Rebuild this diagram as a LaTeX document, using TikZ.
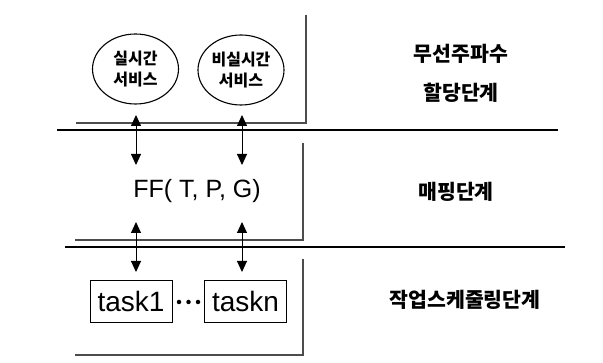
\documentclass[tikz,border=0pt]{standalone}
\usepackage{fontspec}
\setmainfont{Liberation Sans}
\newfontfamily\kr{Noto Sans CJK KR}
\usetikzlibrary{arrows.meta,shapes.geometric}
\begin{document}
\begin{tikzpicture}[x=1pt,y=-1pt,
  svc/.style={draw=black,line width=1.1pt,ellipse,minimum width=86pt,minimum height=70pt,inner sep=0pt,align=center,font=\kr\bfseries\fontsize{16}{21}\selectfont},
  lvl/.style={align=center,font=\kr\bfseries\fontsize{20.5}{39}\selectfont},
  taskbox/.style={draw=black,line width=0.9pt,minimum width=82pt,minimum height=42pt,inner sep=0pt,font=\fontsize{28}{28}\selectfont},
  sep/.style={line width=1.3pt,black},
  frame/.style={line width=1.8pt,black!70},
  dotmark/.style={circle,fill=black,inner sep=0pt,minimum size=4.5pt},
  link/.style={line width=1pt,{Triangle[length=11pt,width=10pt]}-{Triangle[length=11pt,width=10pt]}}
]
\useasboundingbox (0,0) rectangle (603,363);
% separators
\coordinate (s1a) at (57,130); \coordinate (s1b) at (558,130);
\coordinate (s2a) at (65,247); \coordinate (s2b) at (565,247);
\draw[sep] (s1a) -- (s1b);
\draw[sep] (s2a) -- (s2b);
% L frames
\coordinate (f1t) at (306,15); \coordinate (f1c) at (306,123); \coordinate (f1l) at (76,123);
\coordinate (f2t) at (303,143); \coordinate (f2c) at (303,240); \coordinate (f2l) at (75,240);
\coordinate (f3t) at (303,259); \coordinate (f3c) at (303,355); \coordinate (f3l) at (75,355);
\draw[frame] (f1t) -- (f1c) -- (f1l);
\draw[frame] (f2t) -- (f2c) -- (f2l);
\draw[frame] (f3t) -- (f3c) -- (f3l);
% services
\node[svc] (rt) at (135.5,69) {실시간\\서비스};
\node[svc] (nrt) at (241,70) {비실시간\\서비스};
% mapping
\node[font=\fontsize{25}{25}\selectfont] (ff) at (197,191) {FF( T, P, G)};
% tasks
\node[taskbox] (t1) at (131,301) {task1};
\node[taskbox] (tn) at (245.5,301) {taskn};
\node[dotmark] (d1) at (179,302) {};
\node[dotmark] (d2) at (188.5,302) {};
\node[dotmark] (d3) at (198,302) {};
% arrows
\coordinate (a1t) at (136,115); \coordinate (a1b) at (136,165);
\coordinate (a2t) at (242,115); \coordinate (a2b) at (242,165);
\coordinate (a3t) at (136,222); \coordinate (a3b) at (136,272);
\coordinate (a4t) at (242,222); \coordinate (a4b) at (242,272);
\draw[link] (a1t) -- (a1b);
\draw[link] (a2t) -- (a2b);
\draw[link] (a3t) -- (a3b);
\draw[link] (a4t) -- (a4b);
% level labels
\node[lvl] (l1) at (461,73) {무선주파수\\할당단계};
\node[lvl] (l2) at (456,192) {매핑단계};
\node[lvl] (l3) at (465,300) {작업스케줄링단계};
\end{tikzpicture}
\end{document}
